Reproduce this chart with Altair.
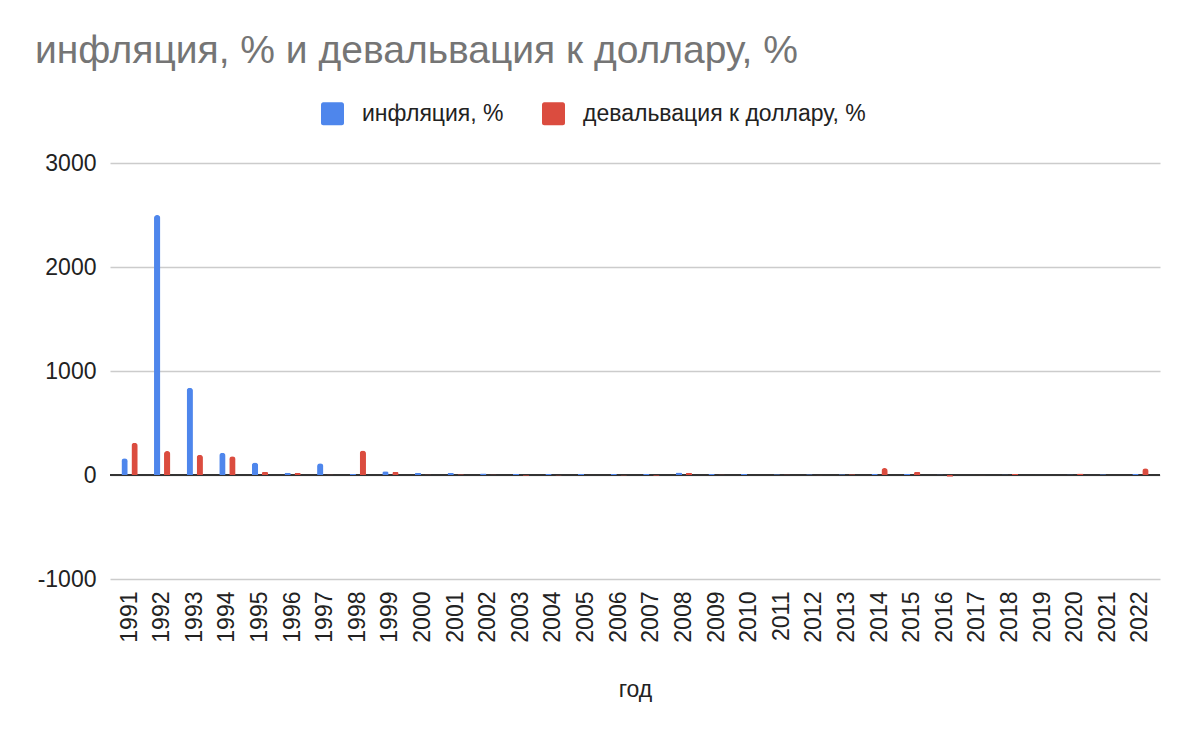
import altair as alt
import pandas as pd

years = [str(y) for y in range(1991, 2023)]
inflation = [160, 2500, 840, 215, 120, 22, 112, 10, 36, 20, 18.6, 15.1, 12, 11.7, 10.9, 9,
             11.9, 25, 8.8, 8.8, 6.1, 6.6, 6.5, 11.4, 12.9, 5.4, 2.5, 4.3, 3.0, 4.9, 8.4, 11.9]
devaluation = [310, 230, 195, 180, 30, 20, 5, 235, 30, 4, 7, 6, -7, -5, 3, -5,
               -7, 20, 6, -1, 5, -2, 8, 67, 30, -17, -2, 10, -1, 15, -1, 65]
series_names = ["инфляция, %", "девальвация к доллару, %"]
colors = ["#4e86ec", "#db4c3f"]
title_text = "инфляция, % и девальвация к доллару, %"
y_ticks = [-1000, 0, 1000, 2000, 3000]

rows = []
for i, yr in enumerate(years):
    rows.append({"год": yr, "series": series_names[0], "value": inflation[i]})
    rows.append({"год": yr, "series": series_names[1], "value": devaluation[i]})
df = pd.DataFrame(rows)

FONT = "Liberation Sans"
ROUNDED_SQUARE = ("M-0.8,-1 H0.8 A0.2,0.2 0 0 1 1,-0.8 V0.8 A0.2,0.2 0 0 1 0.8,1 "
                  "H-0.8 A0.2,0.2 0 0 1 -1,0.8 V-0.8 A0.2,0.2 0 0 1 -0.8,-1 Z")

zero = alt.Chart(pd.DataFrame({"z": [0]})).mark_rule(color="#333333", strokeWidth=2).encode(
    y=alt.Y("z:Q", scale=alt.Scale(domain=[-1000, 3000]))
)

bars = alt.Chart(df).mark_bar(cornerRadiusEnd=3).encode(
    x=alt.X("год:N", sort=years,
            scale=alt.Scale(paddingInner=0.5, paddingOuter=0.35),
            axis=alt.Axis(labelAngle=270, labelFontSize=23, labelColor="#222222",
                          labelFont=FONT, ticks=False, domain=False, labelPadding=12,
                          titleFontSize=23, titleFont=FONT, titleColor="#222222",
                          titleFontWeight="normal", titlePadding=36)),
    xOffset=alt.XOffset("series:N", sort=series_names,
                        scale=alt.Scale(paddingInner=0.37, paddingOuter=0)),
    y=alt.Y("value:Q", scale=alt.Scale(domain=[-1000, 3000]),
            axis=alt.Axis(values=y_ticks, title=None, labelFontSize=23, labelFont=FONT,
                          labelExpr="'' + datum.value",
                          labelColor="#222222", ticks=False, domain=False, labelPadding=14,
                          gridColor="#cccccc", gridWidth=1.3)),
    color=alt.Color("series:N", sort=series_names,
                    scale=alt.Scale(domain=series_names, range=colors),
                    legend=alt.Legend(title=None, orient="none", legendX=211, legendY=-61,
                                      direction="horizontal",
                                      symbolType=ROUNDED_SQUARE,
                                      symbolSize=529, symbolStrokeWidth=0,
                                      labelFontSize=23, labelFont=FONT, labelColor="#222222",
                                      labelLimit=0, labelOffset=18, columnPadding=37)),
)

chart = alt.layer(zero, bars).properties(
    width=1050,
    height=416,
    title=alt.TitleParams(title_text, anchor="start", frame="group", dx=-75, offset=0,
                          baseline="alphabetic", fontSize=39, font=FONT, color="#757575",
                          fontWeight="normal"),
    autosize=alt.AutoSizeParams(type="none"),
    padding={"left": 102, "top": 155, "right": 30, "bottom": 145},
).configure_view(stroke=None)

chart.save("out.html", embed_options={"renderer": "svg", "actions": False})
